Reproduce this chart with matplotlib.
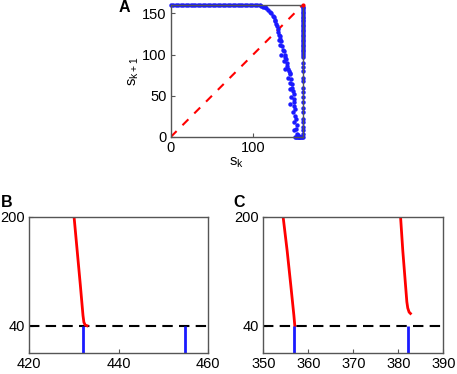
import matplotlib.pyplot as plt

plt.rcParams['font.family'] = ['Liberation Sans', 'DejaVu Sans']
plt.rcParams['font.size'] = 10.5

# 面板A: 返回映射 s_k -> s_{k+1}
top_x = [0, 3, 6, 9, 12, 15, 18, 21, 24, 27, 30, 33, 36, 39, 42, 45, 48, 51, 54, 57,
         60, 63, 66, 69, 72, 75, 78, 81, 84, 87, 90, 93, 96, 99, 102, 105, 108]
curve_x = [110, 112, 114, 116, 118, 120, 122, 124, 125, 126, 127, 128, 129, 130, 130, 131,
           132, 131, 133, 134, 132, 135, 136, 137, 134, 138, 139, 140, 137, 141, 141, 139,
           142, 143, 144, 145, 142, 146, 145, 147, 147, 144, 148, 149, 146, 149, 150, 145,
           150, 151, 148, 151, 152, 150, 153, 152, 149, 153, 154]
curve_y = [159, 158, 157, 156, 154, 152, 150, 147, 145, 142, 140, 137, 134, 131, 127, 124,
           122, 118, 119, 116, 112, 110, 106, 104, 100, 100, 97, 94, 92, 90, 86, 82,
           82, 80, 78, 76, 72, 70, 66, 64, 60, 58, 56, 52, 48, 46, 42, 40,
           38, 34, 30, 26, 22, 18, 14, 10, 8, 4, 2]
bottom_x = [151, 152, 153, 154, 155, 156, 157, 158, 159, 160]
right_y = [158, 156, 154, 152, 150, 148, 146, 144, 142, 140, 138, 136, 134, 132, 130,
           128, 126, 124, 122, 120, 118, 116, 114, 112, 110, 108, 106, 104, 102, 100, 97,
           90, 85, 80, 72, 68, 60, 55, 48, 42, 35, 30, 22, 18, 12, 8, 4]

# 面板B
b_red_x = [430.0, 430.7, 431.4, 432.0, 432.2, 432.5, 432.9]
b_red_y = [200, 150, 100, 55, 45, 41, 40]
b_spikes = [432.1, 454.8]

# 面板C
c_red1_x = [354.4, 355.3, 356.1, 356.8, 357.0]
c_red1_y = [200, 150, 100, 55, 40]
c_red2_x = [380.5, 381.0, 381.6, 381.9, 382.1, 382.4, 382.7]
c_red2_y = [200, 150, 100, 75, 66, 60, 58]
c_spikes = [356.9, 382.1]
threshold = 40

W, H = 457, 374
fig = plt.figure(figsize=(W / 100, H / 100), dpi=100)


def box(l, r, t, b):
    return [l / W, 1 - b / H, (r - l) / W, (b - t) / H]


def style(ax):
    for s in ax.spines.values():
        s.set_color('#555555')
        s.set_linewidth(1.0)
    ax.tick_params(direction='in', length=3, width=0.8, colors='#555555',
                   labelcolor='black', pad=3)


blue = '#1a1aff'
dot = dict(color=blue, ms=3.2, mew=0, clip_on=False, ls='none', marker='o')

axA = fig.add_axes(box(170.7, 302.7, 5, 137))
axA.plot([0, 160], [0, 160], color='red', lw=1.5, dashes=(4, 4))
axA.plot(top_x, [160] * len(top_x), **dot)
axA.plot(curve_x, curve_y, **dot)
axA.plot(bottom_x, [0] * len(bottom_x), **dot)
axA.plot([160] * len(right_y), right_y, **dot)
axA.plot([160], [160], 'o', color='red', ms=3, mew=0, clip_on=False, zorder=5)
axA.set_xlim(0, 160)
axA.set_ylim(0, 160)
axA.set_xticks([0, 100])
axA.set_yticks([0, 50, 100, 150])
axA.set_xlabel('s$_\\mathregular{k}$', labelpad=0)
axA.set_ylabel('s$_\\mathregular{k+1}$', labelpad=1)
style(axA)
fig.text(119 / W, 1 - 8 / H, 'A', fontweight='bold', fontsize=11.5, va='center')

axB = fig.add_axes(box(29.3, 208.3, 216.7, 353))
axB.axhline(threshold, color='black', lw=1.5, dashes=(5, 3))
axB.plot(b_red_x, b_red_y, color='red', lw=2)
axB.vlines(b_spikes, 0, threshold, color=blue, lw=2)
axB.set_xlim(420, 460)
axB.set_ylim(0, 200)
axB.set_xticks([420, 440, 460])
axB.set_yticks([40, 200])
style(axB)
fig.text(1 / W, 1 - 203 / H, 'B', fontweight='bold', fontsize=11.5, va='center')

axC = fig.add_axes(box(263.3, 443.3, 216.7, 353))
axC.axhline(threshold, color='black', lw=1.5, dashes=(5, 3))
axC.plot(c_red1_x, c_red1_y, color='red', lw=2)
axC.plot(c_red2_x, c_red2_y, color='red', lw=2)
axC.vlines(c_spikes, 0, threshold, color=blue, lw=2)
axC.set_xlim(350, 390)
axC.set_ylim(0, 200)
axC.set_xticks([350, 360, 370, 380, 390])
axC.set_yticks([40, 200])
style(axC)
fig.text(233 / W, 1 - 203 / H, 'C', fontweight='bold', fontsize=11.5, va='center')

fig.savefig('out.png', dpi=100)
